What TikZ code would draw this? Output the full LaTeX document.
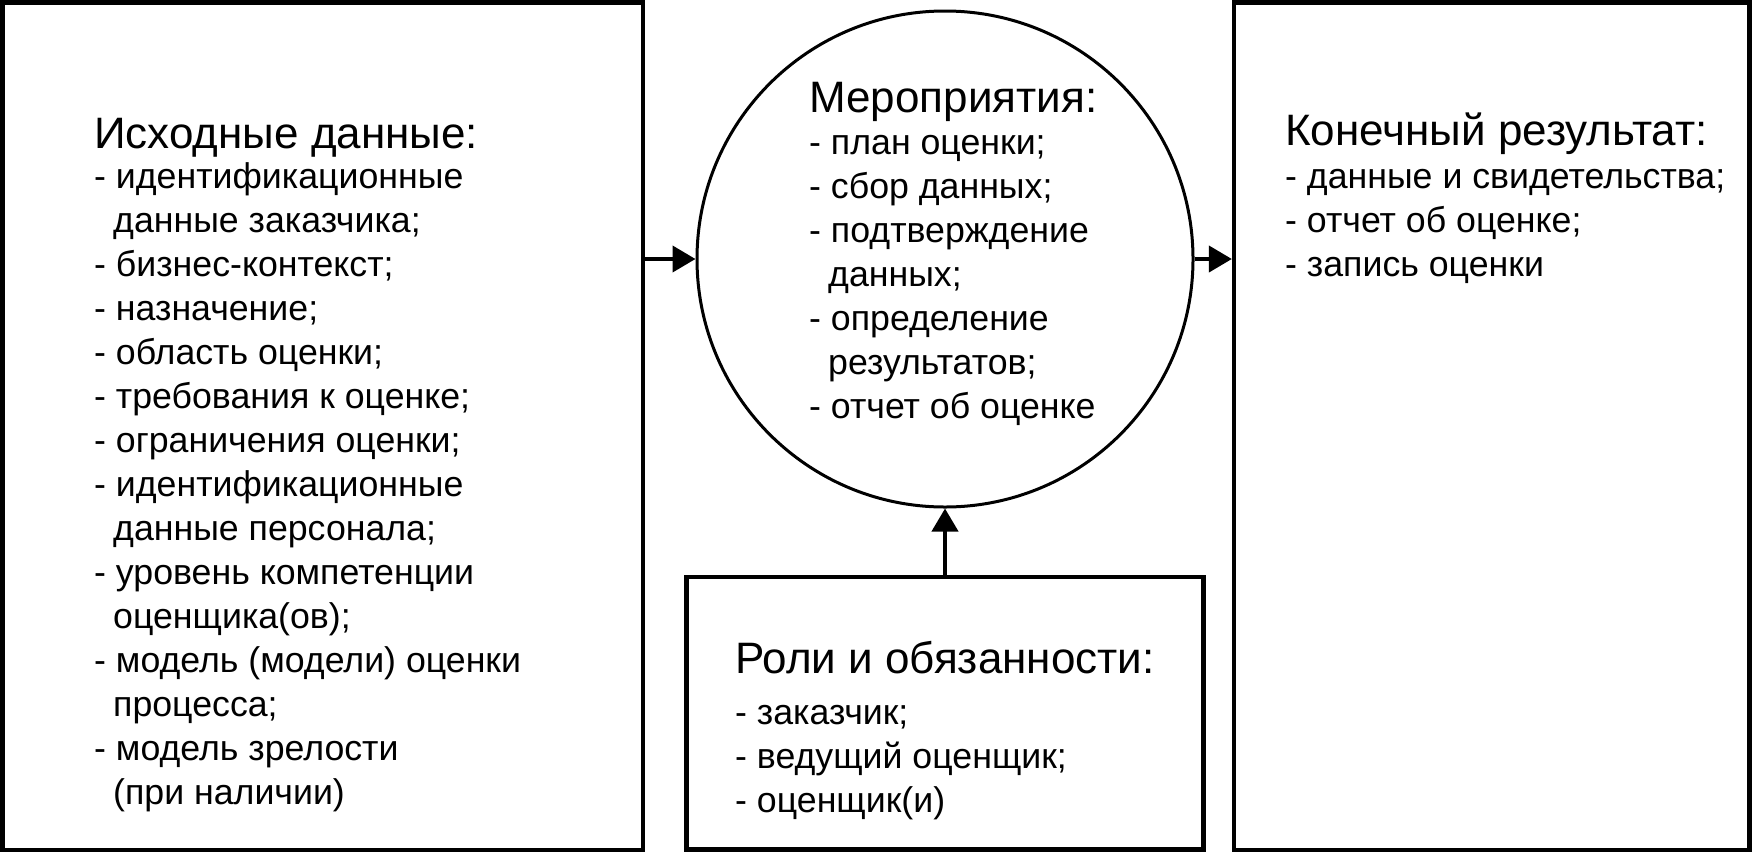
\documentclass[tikz,border=0pt]{standalone}
\usepackage{fontspec}
\setmainfont{Liberation Sans}
\usetikzlibrary{arrows.meta}
\newcommand\contind{\hspace*{19pt}}
\begin{document}
\begin{tikzpicture}[x=1pt,y=-1pt,
  box/.style={draw,line width=4.5pt,inner sep=0pt},
  circ/.style={draw,circle,line width=3pt,inner sep=0pt},
  ttl/.style={anchor=base west,inner sep=0pt,font=\fontsize{44}{50}\selectfont},
  lst/.style={anchor=north west,inner sep=0pt,align=left,font=\fontsize{35.7}{44}\selectfont},
  arr/.style={line width=4pt,-{Triangle[length=23pt,width=26pt]}}]
\useasboundingbox (0,0) rectangle (1752,852);
% shapes
\node[box,minimum width=640.5pt,minimum height=847.5pt] (inp) at (322.5,426) {};
\node[box,minimum width=515.25pt,minimum height=847.5pt] (res) at (1491.75,426) {};
\node[circ,minimum size=496pt] (act) at (945,259) {};
\node[box,minimum width=517pt,minimum height=272.5pt] (rol) at (945,713.25) {};
% texts
\node[ttl] (inpT) at (94,148) {Исходные данные:};
\node[lst] (inpL) at (94,157.2) {\strut- идентификационные\\
\contind данные заказчика;\\
- бизнес-контекст;\\
- назначение;\\
- область оценки;\\
- требования к оценке;\\
- ограничения оценки;\\
- идентификационные\\
\contind данные персонала;\\
- уровень компетенции\\
\contind оценщика(ов);\\
- модель (модели) оценки\\
\contind процесса;\\
- модель зрелости\\
\contind (при наличии)};
\node[ttl] (actT) at (809,112) {Мероприятия:};
\node[lst] (actL) at (809,123.2) {\strut- план оценки;\\
- сбор данных;\\
- подтверждение\\
\contind данных;\\
- определение\\
\contind результатов;\\
- отчет об оценке};
\node[ttl] (resT) at (1285,145) {Конечный результат:};
\node[lst] (resL) at (1285,157.2) {\strut- данные и свидетельства;\\
- отчет об оценке;\\
- запись оценки};
\node[ttl] (rolT) at (735,673) {Роли и обязанности:};
\node[lst] (rolL) at (735,693.2) {\strut- заказчик;\\
- ведущий оценщик;\\
- оценщик(и)};
% connectors
\draw[arr] (inp.east |- act.west) -- (act.west);
\draw[arr] (act.east) -- (res.west |- act.east);
\draw[arr] (rol.north) -- (act.south);
\end{tikzpicture}
\end{document}
